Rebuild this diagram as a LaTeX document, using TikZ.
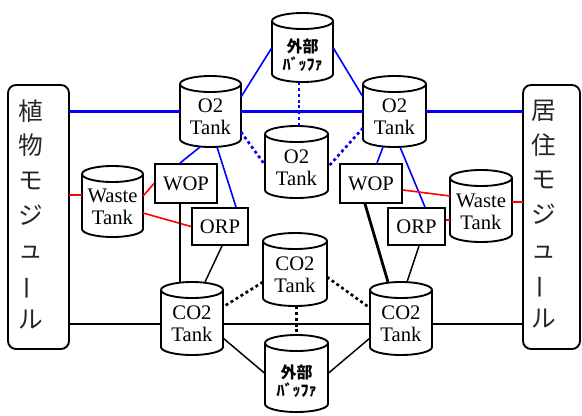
\documentclass[tikz,border=0pt]{standalone}
\usepackage{fontspec}
\usepackage{graphicx}
\setmainfont{Liberation Serif}
\newfontfamily\tms{Liberation Serif}
\newfontfamily\jp{Noto Sans CJK JP}
\usetikzlibrary{calc}
\tikzset{
  sz/.style 2 args={minimum width=#1*0.75pt, minimum height=#2*0.75pt},
  modbox/.style={draw, line width=1.4pt, rounded corners=6pt, inner sep=0pt, outer sep=0pt},
  vtext/.style={align=center, font=\jp\fontsize{18.5}{26}\selectfont, text=black!85, inner sep=0pt},
  rbox/.style={draw, line width=1.4pt, inner sep=0pt, font=\tms\fontsize{15.5}{16.5}\selectfont},
  cyl/.style={inner sep=0pt, outer sep=0pt},
  cylline/.style={line width=1.4pt},
  tanklbl/.style={align=center, font=\tms\fontsize{15.5}{16.5}\selectfont, yshift=-4pt},
  buflbl/.style={align=center, font=\jp\bfseries\fontsize{12}{13.5}\selectfont, yshift=-6pt},
  bthick/.style={blue, line width=2pt},
  bthin/.style={blue, line width=1.2pt},
  bdot/.style={blue, line width=2pt, dash pattern=on 2.2pt off 2.2pt},
  rthin/.style={red, line width=1.2pt},
  rthick/.style={red, line width=2.2pt},
  kthin/.style={black, line width=1.1pt},
  kthick/.style={black, line width=2.1pt},
  kdot/.style={black, line width=2pt, dash pattern=on 2.2pt off 2.2pt},
}
\newcommand\drawcyl[1]{%
  \draw[cylline] let \p1=(#1.north west), \p2=(#1.south east), \n1={(\x2-\x1)/2} in
    (\x1,\y1-6pt) arc[start angle=180,end angle=-180,x radius=\n1,y radius=6pt]
    (\x1,\y1-6pt) -- (\x1,\y2+6pt) arc[start angle=180,end angle=360,x radius=\n1,y radius=6pt] -- (\x2,\y1-6pt);}
\begin{document}
\begin{tikzpicture}[x=0.75pt,y=-0.75pt]
\useasboundingbox (0,0) rectangle (582,415);
% modules
\node[modbox, sz={61}{264}] (LB) at (38.5,217) {};
\node[modbox, sz={57}{264}] (RB) at (551.5,217) {};
\node[vtext] (LBt) at (31,214) {植\\物\\モ\\ジ\\ュ\\\rotatebox[origin=c]{90}{ー}\\ル};
\node[vtext] (RBt) at (544,214) {居\\住\\モ\\ジ\\ュ\\\rotatebox[origin=c]{90}{ー}\\ル};
% cylinders
\node[cyl, sz={61}{69}, label={[buflbl]center:{外部\\ﾊﾞｯﾌｧ}}] (buf1) at (302.5,47.5) {};
\node[cyl, sz={61}{71}, label={[tanklbl]center:{O2\\Tank}}] (o2a) at (210.5,111.5) {};
\node[cyl, sz={63}{71}, label={[tanklbl]center:{O2\\Tank}}] (o2b) at (394.5,111.5) {};
\node[cyl, sz={63}{72}, label={[tanklbl]center:{O2\\Tank}}] (o2c) at (296.5,162) {};
\node[cyl, sz={61}{71}, label={[tanklbl]center:{Waste\\Tank}}] (wasteL) at (112.5,201.5) {};
\node[cyl, sz={62}{72}, label={[tanklbl]center:{Waste\\Tank}}] (wasteR) at (481,206) {};
\node[cyl, sz={64}{73}, label={[tanklbl]center:{CO2\\Tank}}] (co2c) at (295,269.5) {};
\node[cyl, sz={62}{73}, label={[tanklbl]center:{CO2\\Tank}}] (co2a) at (192,318.5) {};
\node[cyl, sz={62}{73}, label={[tanklbl]center:{CO2\\Tank}}] (co2b) at (401,318.5) {};
\node[cyl, sz={63}{77}, label={[buflbl]center:{外部\\ﾊﾞｯﾌｧ}}] (buf2) at (296.5,373.5) {};
\foreach \c in {buf1,o2a,o2b,o2c,wasteL,wasteR,co2c,co2a,co2b,buf2} {\drawcyl{\c}}
% rect boxes
\node[rbox, sz={62}{39}] (wopL) at (186,183.5) {WOP};
\node[rbox, sz={56}{37}] (orpL) at (220,226.5) {ORP};
\node[rbox, sz={62}{39}] (wopR) at (371,183.5) {WOP};
\node[rbox, sz={57}{37}] (orpR) at (416.5,226.5) {ORP};
% blue thick
\draw[bthick] (LB.east |- o2a.west) -- (o2a.west);
\draw[bthick] (o2a.east) -- (o2b.west);
\draw[bthick] (o2b.east) -- (RB.west |- o2b.east);
% blue thin
\draw[bthin] (buf1.west) -- ([shift={(0,-14.5)}]o2a.east);
\draw[bthin] (buf1.east) -- ([shift={(0,-14.5)}]o2b.west);
\draw[bthin] ([shift={(-10.5,0)}]o2a.south) -- ([shift={(-6,0)}]wopL.north);
\draw[bthin] ([shift={(6.5,0)}]o2a.south) -- ([shift={(16,0)}]orpL.north);
\draw[bthin] ([shift={(-11.5,0)}]o2b.south) -- ([shift={(6,0)}]wopR.north);
\draw[bthin] ([shift={(5.5,0)}]o2b.south) -- ([shift={(8.5,0)}]orpR.north);
% blue dotted
\coordinate (d1) at ([shift={(-3.5,0)}]buf1.south);
\draw[bdot] (d1) -- (d1 |- o2c.north);
\draw[bdot] ([shift={(0,20.5)}]o2a.east) -- ([shift={(0,3)}]o2c.west);
\draw[bdot] ([shift={(0,16.5)}]o2b.west) -- ([shift={(0,5)}]o2c.east);
% red
\coordinate (r0) at ([shift={(0,-6.5)}]wasteL.west);
\draw[rthick] (LB.east |- r0) -- (r0);
\draw[rthin] ([shift={(0,-5.5)}]wasteL.east) -- (wopL.west);
\draw[rthin] ([shift={(0,11.5)}]wasteL.east) -- (orpL.west);
\draw[rthin] ([shift={(0,6.5)}]wopR.east) -- ([shift={(0,-10)}]wasteR.west);
\coordinate (r1) at ([shift={(0,-6.5)}]orpR.east);
\draw[rthick] (r1) -- (r1 -| wasteR.west);
\coordinate (r2) at ([shift={(0,-4)}]wasteR.east);
\draw[rthick] (r2) -- (r2 -| RB.west);
% black
\coordinate (k1) at ([shift={(-6,0)}]wopL.south);
\draw[kthin] (k1) -- (k1 |- co2a.north);
\draw[kthin] ([shift={(2,0)}]orpL.south) -- ([shift={(13,0)}]co2a.north);
\draw[kthick] ([shift={(-6,0)}]wopR.south) -- ([shift={(-13,0)}]co2b.north);
\draw[kthin] ([shift={(2.5,0)}]orpR.south) -- ([shift={(6,0)}]co2b.north);
\coordinate (h1) at ([shift={(0,5.5)}]co2a.west);
\draw[kthick] (LB.east |- h1) -- (h1);
\draw[kthick] ([shift={(0,5.5)}]co2a.east) -- ([shift={(0,5.5)}]co2b.west);
\coordinate (h2) at ([shift={(0,5.5)}]co2b.east);
\draw[kthick] (h2) -- (h2 -| RB.west);
\draw[kdot] ([shift={(0,12.5)}]co2c.west) -- ([shift={(0,-11.5)}]co2a.east);
\draw[kdot] ([shift={(0,7.5)}]co2c.east) -- ([shift={(0,-10.5)}]co2b.west);
\draw[kdot] (co2c.south -| buf2.north) -- (buf2.north);
\draw[kthin] ([shift={(0,19.5)}]co2a.east) -- (buf2.west);
\draw[kthin] (buf2.east) -- ([shift={(0,19.5)}]co2b.west);
\end{tikzpicture}
\end{document}
